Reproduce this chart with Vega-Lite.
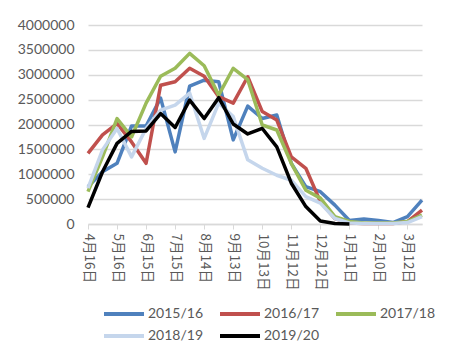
{
  "$schema": "https://vega.github.io/schema/vega-lite/v6.json",
  "autosize": {"type": "none"},
  "width": 334,
  "height": 199,
  "padding": {"left": 88, "top": 25, "right": 47, "bottom": 130},
  "background": "white",
  "config": {"view": {"stroke": null}},
  "datasets": {
    "rows": [
      {"date": "4月16日", "season": "2015/16", "value": 750000},
      {"date": "5月1日", "season": "2015/16", "value": 1050000},
      {"date": "5月16日", "season": "2015/16", "value": 1220000},
      {"date": "5月31日", "season": "2015/16", "value": 1970000},
      {"date": "6月15日", "season": "2015/16", "value": 1970000},
      {"date": "6月30日", "season": "2015/16", "value": 2530000},
      {"date": "7月15日", "season": "2015/16", "value": 1450000},
      {"date": "7月30日", "season": "2015/16", "value": 2770000},
      {"date": "8月14日", "season": "2015/16", "value": 2890000},
      {"date": "8月29日", "season": "2015/16", "value": 2860000},
      {"date": "9月13日", "season": "2015/16", "value": 1690000},
      {"date": "9月28日", "season": "2015/16", "value": 2370000},
      {"date": "10月13日", "season": "2015/16", "value": 2120000},
      {"date": "10月28日", "season": "2015/16", "value": 2190000},
      {"date": "11月12日", "season": "2015/16", "value": 1220000},
      {"date": "11月27日", "season": "2015/16", "value": 750000},
      {"date": "12月12日", "season": "2015/16", "value": 650000},
      {"date": "12月27日", "season": "2015/16", "value": 380000},
      {"date": "1月11日", "season": "2015/16", "value": 70000},
      {"date": "1月26日", "season": "2015/16", "value": 100000},
      {"date": "2月10日", "season": "2015/16", "value": 70000},
      {"date": "2月25日", "season": "2015/16", "value": 30000},
      {"date": "3月12日", "season": "2015/16", "value": 150000},
      {"date": "3月27日", "season": "2015/16", "value": 480000},

      {"date": "4月16日", "season": "2016/17", "value": 1420000},
      {"date": "5月1日", "season": "2016/17", "value": 1790000},
      {"date": "5月16日", "season": "2016/17", "value": 2020000},
      {"date": "5月31日", "season": "2016/17", "value": 1650000},
      {"date": "6月15日", "season": "2016/17", "value": 1220000},
      {"date": "6月30日", "season": "2016/17", "value": 2790000},
      {"date": "7月15日", "season": "2016/17", "value": 2860000},
      {"date": "7月30日", "season": "2016/17", "value": 3130000},
      {"date": "8月14日", "season": "2016/17", "value": 2970000},
      {"date": "8月29日", "season": "2016/17", "value": 2560000},
      {"date": "9月13日", "season": "2016/17", "value": 2430000},
      {"date": "9月28日", "season": "2016/17", "value": 2960000},
      {"date": "10月13日", "season": "2016/17", "value": 2260000},
      {"date": "10月28日", "season": "2016/17", "value": 2090000},
      {"date": "11月12日", "season": "2016/17", "value": 1350000},
      {"date": "11月27日", "season": "2016/17", "value": 1120000},
      {"date": "12月12日", "season": "2016/17", "value": 450000},
      {"date": "12月27日", "season": "2016/17", "value": 110000},
      {"date": "1月11日", "season": "2016/17", "value": 20000},
      {"date": "1月26日", "season": "2016/17", "value": 10000},
      {"date": "2月10日", "season": "2016/17", "value": 10000},
      {"date": "2月25日", "season": "2016/17", "value": 10000},
      {"date": "3月12日", "season": "2016/17", "value": 50000},
      {"date": "3月27日", "season": "2016/17", "value": 280000},

      {"date": "4月16日", "season": "2017/18", "value": 650000},
      {"date": "5月1日", "season": "2017/18", "value": 1350000},
      {"date": "5月16日", "season": "2017/18", "value": 2120000},
      {"date": "5月31日", "season": "2017/18", "value": 1750000},
      {"date": "6月15日", "season": "2017/18", "value": 2430000},
      {"date": "6月30日", "season": "2017/18", "value": 2970000},
      {"date": "7月15日", "season": "2017/18", "value": 3130000},
      {"date": "7月30日", "season": "2017/18", "value": 3430000},
      {"date": "8月14日", "season": "2017/18", "value": 3180000},
      {"date": "8月29日", "season": "2017/18", "value": 2590000},
      {"date": "9月13日", "season": "2017/18", "value": 3130000},
      {"date": "9月28日", "season": "2017/18", "value": 2900000},
      {"date": "10月13日", "season": "2017/18", "value": 1990000},
      {"date": "10月28日", "season": "2017/18", "value": 1890000},
      {"date": "11月12日", "season": "2017/18", "value": 1220000},
      {"date": "11月27日", "season": "2017/18", "value": 680000},
      {"date": "12月12日", "season": "2017/18", "value": 520000},
      {"date": "12月27日", "season": "2017/18", "value": 150000},
      {"date": "1月11日", "season": "2017/18", "value": 50000},
      {"date": "1月26日", "season": "2017/18", "value": 20000},
      {"date": "2月10日", "season": "2017/18", "value": 20000},
      {"date": "2月25日", "season": "2017/18", "value": 20000},
      {"date": "3月12日", "season": "2017/18", "value": 50000},
      {"date": "3月27日", "season": "2017/18", "value": 180000},

      {"date": "4月16日", "season": "2018/19", "value": 720000},
      {"date": "5月1日", "season": "2018/19", "value": 1490000},
      {"date": "5月16日", "season": "2018/19", "value": 1920000},
      {"date": "5月31日", "season": "2018/19", "value": 1350000},
      {"date": "6月15日", "season": "2018/19", "value": 1920000},
      {"date": "6月30日", "season": "2018/19", "value": 2290000},
      {"date": "7月15日", "season": "2018/19", "value": 2390000},
      {"date": "7月30日", "season": "2018/19", "value": 2630000},
      {"date": "8月14日", "season": "2018/19", "value": 1720000},
      {"date": "8月29日", "season": "2018/19", "value": 2430000},
      {"date": "9月13日", "season": "2018/19", "value": 2160000},
      {"date": "9月28日", "season": "2018/19", "value": 1290000},
      {"date": "10月13日", "season": "2018/19", "value": 1120000},
      {"date": "10月28日", "season": "2018/19", "value": 980000},
      {"date": "11月12日", "season": "2018/19", "value": 880000},
      {"date": "11月27日", "season": "2018/19", "value": 550000},
      {"date": "12月12日", "season": "2018/19", "value": 420000},
      {"date": "12月27日", "season": "2018/19", "value": 110000},
      {"date": "1月11日", "season": "2018/19", "value": 20000},
      {"date": "1月26日", "season": "2018/19", "value": 10000},
      {"date": "2月10日", "season": "2018/19", "value": 10000},
      {"date": "2月25日", "season": "2018/19", "value": 10000},
      {"date": "3月12日", "season": "2018/19", "value": 30000},
      {"date": "3月27日", "season": "2018/19", "value": 150000},

      {"date": "4月16日", "season": "2019/20", "value": 330000},
      {"date": "5月1日", "season": "2019/20", "value": 1050000},
      {"date": "5月16日", "season": "2019/20", "value": 1620000},
      {"date": "5月31日", "season": "2019/20", "value": 1860000},
      {"date": "6月15日", "season": "2019/20", "value": 1870000},
      {"date": "6月30日", "season": "2019/20", "value": 2220000},
      {"date": "7月15日", "season": "2019/20", "value": 1940000},
      {"date": "7月30日", "season": "2019/20", "value": 2490000},
      {"date": "8月14日", "season": "2019/20", "value": 2120000},
      {"date": "8月29日", "season": "2019/20", "value": 2540000},
      {"date": "9月13日", "season": "2019/20", "value": 2010000},
      {"date": "9月28日", "season": "2019/20", "value": 1810000},
      {"date": "10月13日", "season": "2019/20", "value": 1920000},
      {"date": "10月28日", "season": "2019/20", "value": 1550000},
      {"date": "11月12日", "season": "2019/20", "value": 820000},
      {"date": "11月27日", "season": "2019/20", "value": 350000},
      {"date": "12月12日", "season": "2019/20", "value": 60000},
      {"date": "12月27日", "season": "2019/20", "value": 10000},
      {"date": "1月11日", "season": "2019/20", "value": 0}
    ]
  },
  "data": {"name": "rows"},
  "mark": {"type": "line", "strokeWidth": 3.5, "strokeJoin": "round", "strokeCap": "butt"},
  "encoding": {
    "x": {
      "field": "date",
      "type": "nominal",
      "sort": null,
      "scale": {"type": "point", "padding": 0},
      "axis": {
        "title": null,
        "values": ["4月16日", "5月16日", "6月15日", "7月15日", "8月14日", "9月13日", "10月13日", "11月12日", "12月12日", "1月11日", "2月10日", "3月12日"],
        "labelAngle": 90,
        "labelAlign": "left",
        "labelBaseline": "middle",
        "labelFont": "Noto Sans CJK SC",
        "labelFontSize": 13.5,
        "labelColor": "#595959",
        "labelPadding": 4,
        "tickSize": 5,
        "tickColor": "#d9d9d9",
        "domainColor": "#d9d9d9",
        "domainWidth": 1.3,
        "grid": false
      }
    },
    "y": {
      "field": "value",
      "type": "quantitative",
      "scale": {"domain": [0, 4000000], "nice": false},
      "axis": {
        "title": null,
        "values": [0, 500000, 1000000, 1500000, 2000000, 2500000, 3000000, 3500000, 4000000],
        "format": "d",
        "labelFont": "Lato",
        "labelFontSize": 14,
        "labelColor": "#595959",
        "ticks": false,
        "domain": false,
        "labelPadding": 14,
        "gridColor": "#d9d9d9",
        "gridWidth": 1.3
      }
    },
    "color": {
      "field": "season",
      "type": "nominal",
      "scale": {
        "domain": ["2015/16", "2016/17", "2017/18", "2018/19", "2019/20"],
        "range": ["#4F81BD", "#C0504D", "#9BBB59", "#C5D6EC", "#000000"]
      },
      "legend": {
        "title": null,
        "orient": "none",
        "legendX": 26,
        "legendY": 279,
        "direction": "horizontal",
        "columns": 3,
        "symbolType": "M-2.5,0L2.5,0",
        "symbolSize": 256,
        "symbolStrokeWidth": 4,
        "labelFont": "Lato",
        "labelFontSize": 14,
        "labelColor": "#595959",
        "labelOffset": 14,
        "columnPadding": 8,
        "rowPadding": 4
      }
    }
  }
}
